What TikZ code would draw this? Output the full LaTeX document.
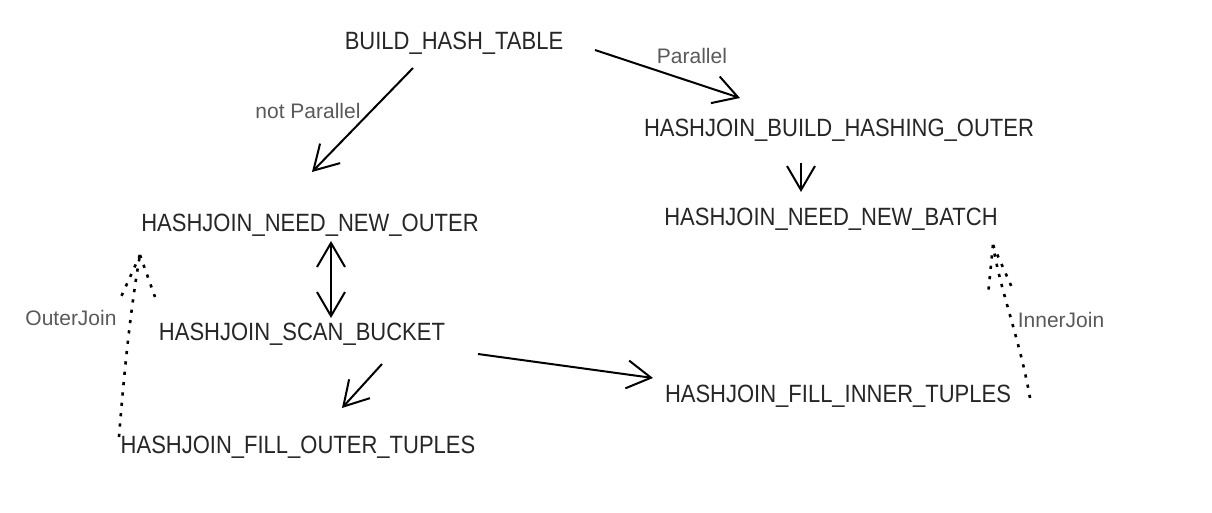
\documentclass[tikz,border=0pt]{standalone}
\usepackage{fontspec}
\setmainfont{Liberation Sans}
\newfontfamily\hand[FakeStretch=0.88]{Liberation Sans}
\usetikzlibrary{arrows.meta}
\tikzset{
  st/.style={font=\hand\fontsize{12.5}{14}\selectfont, inner sep=0pt, text=black!85},
  lbl/.style={font=\fontsize{10.5}{12}\selectfont, inner sep=0pt, text=black!65},
  arr/.style={line width=1pt, black, -{Straight Barb[length=12pt,width=14pt,line width=1pt]}},
  darr/.style={line width=1pt, black, {Straight Barb[length=12pt,width=14pt,line width=1pt]}-{Straight Barb[length=12pt,width=14pt,line width=1pt]}},
  dotl/.style={line width=1.3pt, black, dash pattern=on 1.6pt off 3.6pt}
}
\begin{document}
\begin{tikzpicture}[x=0.5pt,y=-0.5pt]
\useasboundingbox (0,0) rectangle (1212,513);
\node[st] (bht) at (454,43) {BUILD\_HASH\_TABLE};
\node[st] (bho) at (839,130) {HASHJOIN\_BUILD\_HASHING\_OUTER};
\node[st] (nnb) at (831,219) {HASHJOIN\_NEED\_NEW\_BATCH};
\node[st] (nno) at (310,225) {HASHJOIN\_NEED\_NEW\_OUTER};
\node[st] (scb) at (302,334) {HASHJOIN\_SCAN\_BUCKET};
\node[st] (fot) at (298,447) {HASHJOIN\_FILL\_OUTER\_TUPLES};
\node[st] (fit) at (838,396) {HASHJOIN\_FILL\_INNER\_TUPLES};

\node[lbl] (lpar) at (692,56) {Parallel};
\node[lbl] (lnpar) at (308,111) {not Parallel};
\node[lbl] (lout) at (71,318) {OuterJoin};
\node[lbl] (lin) at (1061,320) {InnerJoin};

\coordinate (a1s) at (413,68);  \coordinate (a1e) at (312,172);
\coordinate (a2s) at (595,50);  \coordinate (a2e) at (740,98);
\coordinate (a3s) at (801,163); \coordinate (a3e) at (801,192);
\coordinate (a4s) at (331,241); \coordinate (a4e) at (331,318);
\coordinate (a5s) at (382,364); \coordinate (a5e) at (342,408);
\coordinate (a6s) at (478,354); \coordinate (a6e) at (653,378);
\coordinate (a7s) at (119,437); \coordinate (a7e) at (140,255);
\coordinate (a7l) at (121,297); \coordinate (a7r) at (155,297);
\coordinate (a8s) at (1030,398); \coordinate (a8e) at (993,245);
\coordinate (a8l) at (988,295); \coordinate (a8r) at (1013,290);

\draw[arr] (a1s) -- (a1e);
\draw[arr] (a2s) -- (a2e);
\draw[arr] (a3s) -- (a3e);
\draw[darr] (a4s) -- (a4e);
\draw[arr] (a5s) -- (a5e);
\draw[arr] (a6s) -- (a6e);
\draw[dotl] (a7s) .. controls (125,360) and (132,300) .. (a7e);
\draw[dotl] (a7e) -- (a7l);
\draw[dotl] (a7e) -- (a7r);
\draw[dotl] (a8s) .. controls (1020,340) and (1000,290) .. (a8e);
\draw[dotl] (a8e) -- (a8l);
\draw[dotl] (a8e) -- (a8r);
\end{tikzpicture}
\end{document}
